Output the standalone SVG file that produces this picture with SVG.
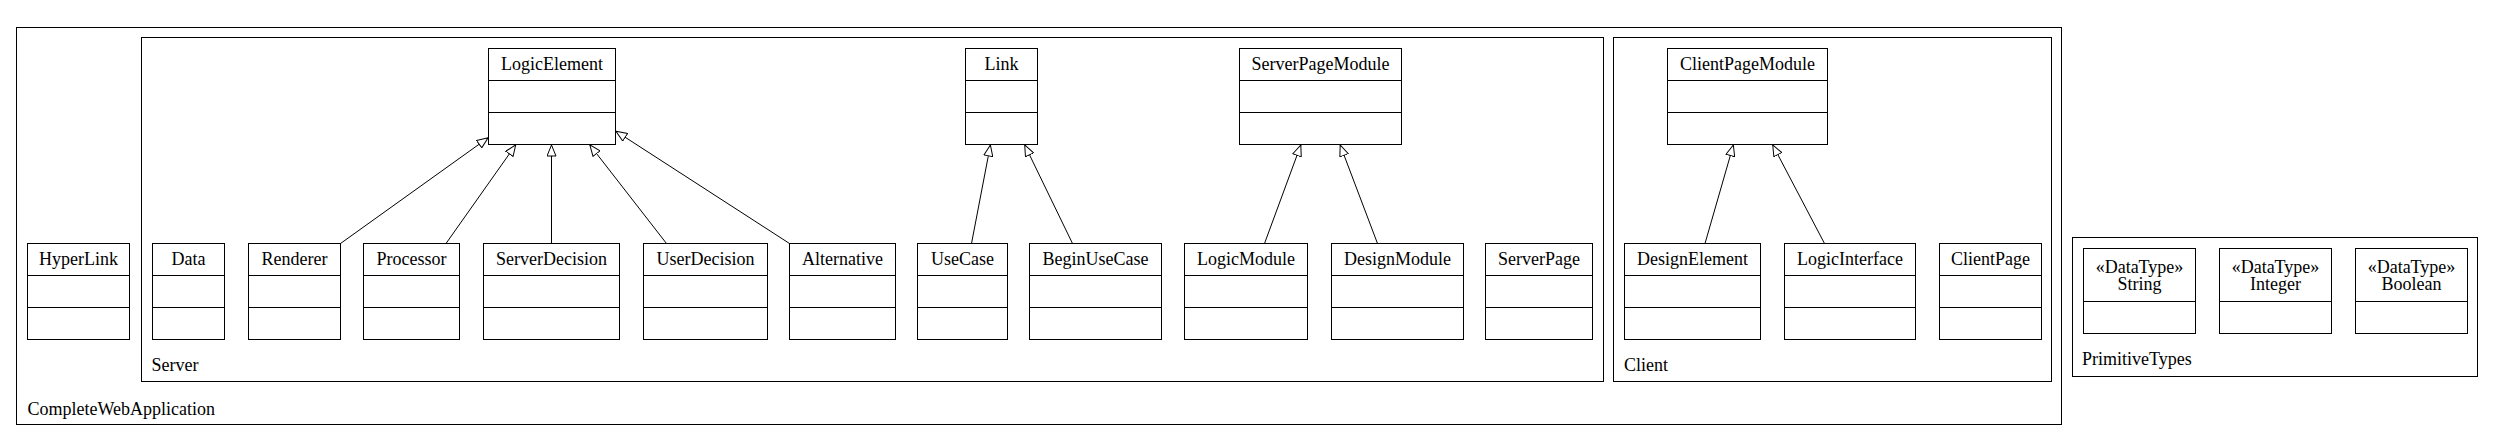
<svg xmlns="http://www.w3.org/2000/svg" width="2493" height="440" viewBox="0 0 2493 440">
<style>
  .pkg { fill: none; stroke: #000; stroke-width: 1; }
  .box { fill: #fff; stroke: #000; stroke-width: 1; }
  .div { stroke: #000; stroke-width: 1; }
  text { font-family: "Liberation Serif", "Times New Roman", serif; font-size: 18px; fill: #000; }
  .c { text-anchor: middle; }
  .gen { fill: none; stroke: #000; stroke-width: 1; marker-end: url(#tri); }
</style>
<defs>
  <marker id="tri" viewBox="0 0 12 10" refX="12" refY="5" markerWidth="12" markerHeight="10" markerUnits="userSpaceOnUse" orient="auto">
    <path d="M0.5,0.5 L11.5,5 L0.5,9.5 Z" fill="#fff" stroke="#000" stroke-width="1"/>
  </marker>
</defs>
<rect width="2493" height="440" fill="#fff"/>

<g id="pkg-CompleteWebApplication">
  <rect class="pkg" x="16.5" y="27.5" width="2045" height="397"/>
  <text x="27.5" y="415">CompleteWebApplication</text>
</g>
<g id="pkg-Server">
  <rect class="pkg" x="141.5" y="37.5" width="1462" height="344"/>
  <text x="151.5" y="371">Server</text>
</g>
<g id="pkg-Client">
  <rect class="pkg" x="1613.5" y="37.5" width="438" height="344"/>
  <text x="1624" y="371">Client</text>
</g>
<g id="pkg-PrimitiveTypes">
  <rect class="pkg" x="2072.5" y="237.5" width="405" height="139"/>
  <text x="2082" y="365">PrimitiveTypes</text>
</g>

<g id="connectors">
  <line class="gen" x1="340.5" y1="243.5" x2="488.5" y2="137.5"/>
  <line class="gen" x1="446" y1="243.5" x2="516" y2="144.5"/>
  <line class="gen" x1="551.5" y1="243.5" x2="551.5" y2="144.5"/>
  <line class="gen" x1="666.5" y1="243.5" x2="589.5" y2="144.5"/>
  <line class="gen" x1="789.5" y1="243.5" x2="615.5" y2="131"/>
  <line class="gen" x1="971.5" y1="243.5" x2="990.5" y2="144.5"/>
  <line class="gen" x1="1072.5" y1="243.5" x2="1024.5" y2="144.5"/>
  <line class="gen" x1="1264.5" y1="243.5" x2="1301" y2="144.5"/>
  <line class="gen" x1="1377.5" y1="243.5" x2="1340" y2="144.5"/>
  <line class="gen" x1="1705" y1="243.5" x2="1733.5" y2="144.5"/>
  <line class="gen" x1="1824.5" y1="243.5" x2="1772.5" y2="144.5"/>
</g>

<!-- top row classes -->
<g id="LogicElement">
  <rect class="box" x="488.5" y="48.5" width="127" height="96"/>
  <line class="div" x1="488.5" y1="80.5" x2="615.5" y2="80.5"/>
  <line class="div" x1="488.5" y1="112.5" x2="615.5" y2="112.5"/>
  <text class="c" x="552" y="70">LogicElement</text>
</g>
<g id="Link">
  <rect class="box" x="965.5" y="48.5" width="72" height="96"/>
  <line class="div" x1="965.5" y1="80.5" x2="1037.5" y2="80.5"/>
  <line class="div" x1="965.5" y1="112.5" x2="1037.5" y2="112.5"/>
  <text class="c" x="1001.5" y="70">Link</text>
</g>
<g id="ServerPageModule">
  <rect class="box" x="1239.5" y="48.5" width="162" height="96"/>
  <line class="div" x1="1239.5" y1="80.5" x2="1401.5" y2="80.5"/>
  <line class="div" x1="1239.5" y1="112.5" x2="1401.5" y2="112.5"/>
  <text class="c" x="1320.5" y="70">ServerPageModule</text>
</g>
<g id="ClientPageModule">
  <rect class="box" x="1667.5" y="48.5" width="160" height="96"/>
  <line class="div" x1="1667.5" y1="80.5" x2="1827.5" y2="80.5"/>
  <line class="div" x1="1667.5" y1="112.5" x2="1827.5" y2="112.5"/>
  <text class="c" x="1747.5" y="70">ClientPageModule</text>
</g>

<!-- bottom row classes -->
<g id="HyperLink">
  <rect class="box" x="27.5" y="243.5" width="102" height="96"/>
  <line class="div" x1="27.5" y1="275.5" x2="129.5" y2="275.5"/>
  <line class="div" x1="27.5" y1="307.5" x2="129.5" y2="307.5"/>
  <text class="c" x="78.5" y="265">HyperLink</text>
</g>
<g id="Data">
  <rect class="box" x="152.5" y="243.5" width="72" height="96"/>
  <line class="div" x1="152.5" y1="275.5" x2="224.5" y2="275.5"/>
  <line class="div" x1="152.5" y1="307.5" x2="224.5" y2="307.5"/>
  <text class="c" x="188.5" y="265">Data</text>
</g>
<g id="Renderer">
  <rect class="box" x="248.5" y="243.5" width="92" height="96"/>
  <line class="div" x1="248.5" y1="275.5" x2="340.5" y2="275.5"/>
  <line class="div" x1="248.5" y1="307.5" x2="340.5" y2="307.5"/>
  <text class="c" x="294.5" y="265">Renderer</text>
</g>
<g id="Processor">
  <rect class="box" x="363.5" y="243.5" width="96" height="96"/>
  <line class="div" x1="363.5" y1="275.5" x2="459.5" y2="275.5"/>
  <line class="div" x1="363.5" y1="307.5" x2="459.5" y2="307.5"/>
  <text class="c" x="411.5" y="265">Processor</text>
</g>
<g id="ServerDecision">
  <rect class="box" x="483.5" y="243.5" width="136" height="96"/>
  <line class="div" x1="483.5" y1="275.5" x2="619.5" y2="275.5"/>
  <line class="div" x1="483.5" y1="307.5" x2="619.5" y2="307.5"/>
  <text class="c" x="551.5" y="265">ServerDecision</text>
</g>
<g id="UserDecision">
  <rect class="box" x="643.5" y="243.5" width="124" height="96"/>
  <line class="div" x1="643.5" y1="275.5" x2="767.5" y2="275.5"/>
  <line class="div" x1="643.5" y1="307.5" x2="767.5" y2="307.5"/>
  <text class="c" x="705.5" y="265">UserDecision</text>
</g>
<g id="Alternative">
  <rect class="box" x="789.5" y="243.5" width="106" height="96"/>
  <line class="div" x1="789.5" y1="275.5" x2="895.5" y2="275.5"/>
  <line class="div" x1="789.5" y1="307.5" x2="895.5" y2="307.5"/>
  <text class="c" x="842.5" y="265">Alternative</text>
</g>
<g id="UseCase">
  <rect class="box" x="917.5" y="243.5" width="90" height="96"/>
  <line class="div" x1="917.5" y1="275.5" x2="1007.5" y2="275.5"/>
  <line class="div" x1="917.5" y1="307.5" x2="1007.5" y2="307.5"/>
  <text class="c" x="962.5" y="265">UseCase</text>
</g>
<g id="BeginUseCase">
  <rect class="box" x="1029.5" y="243.5" width="132" height="96"/>
  <line class="div" x1="1029.5" y1="275.5" x2="1161.5" y2="275.5"/>
  <line class="div" x1="1029.5" y1="307.5" x2="1161.5" y2="307.5"/>
  <text class="c" x="1095.5" y="265">BeginUseCase</text>
</g>
<g id="LogicModule">
  <rect class="box" x="1184.5" y="243.5" width="123" height="96"/>
  <line class="div" x1="1184.5" y1="275.5" x2="1307.5" y2="275.5"/>
  <line class="div" x1="1184.5" y1="307.5" x2="1307.5" y2="307.5"/>
  <text class="c" x="1246" y="265">LogicModule</text>
</g>
<g id="DesignModule">
  <rect class="box" x="1331.5" y="243.5" width="132" height="96"/>
  <line class="div" x1="1331.5" y1="275.5" x2="1463.5" y2="275.5"/>
  <line class="div" x1="1331.5" y1="307.5" x2="1463.5" y2="307.5"/>
  <text class="c" x="1397.5" y="265">DesignModule</text>
</g>
<g id="ServerPage">
  <rect class="box" x="1485.5" y="243.5" width="107" height="96"/>
  <line class="div" x1="1485.5" y1="275.5" x2="1592.5" y2="275.5"/>
  <line class="div" x1="1485.5" y1="307.5" x2="1592.5" y2="307.5"/>
  <text class="c" x="1539" y="265">ServerPage</text>
</g>
<g id="DesignElement">
  <rect class="box" x="1624.5" y="243.5" width="136" height="96"/>
  <line class="div" x1="1624.5" y1="275.5" x2="1760.5" y2="275.5"/>
  <line class="div" x1="1624.5" y1="307.5" x2="1760.5" y2="307.5"/>
  <text class="c" x="1692.5" y="265">DesignElement</text>
</g>
<g id="LogicInterface">
  <rect class="box" x="1784.5" y="243.5" width="131" height="96"/>
  <line class="div" x1="1784.5" y1="275.5" x2="1915.5" y2="275.5"/>
  <line class="div" x1="1784.5" y1="307.5" x2="1915.5" y2="307.5"/>
  <text class="c" x="1850" y="265">LogicInterface</text>
</g>
<g id="ClientPage">
  <rect class="box" x="1939.5" y="243.5" width="102" height="96"/>
  <line class="div" x1="1939.5" y1="275.5" x2="2041.5" y2="275.5"/>
  <line class="div" x1="1939.5" y1="307.5" x2="2041.5" y2="307.5"/>
  <text class="c" x="1990.5" y="265">ClientPage</text>
</g>

<!-- primitive data types -->
<g id="String">
  <rect class="box" x="2083.5" y="248.5" width="112" height="85"/>
  <line class="div" x1="2083.5" y1="301.5" x2="2195.5" y2="301.5"/>
  <text class="c" x="2139.5" y="272.5">«DataType»</text>
  <text class="c" x="2139.5" y="290">String</text>
</g>
<g id="Integer">
  <rect class="box" x="2219.5" y="248.5" width="112" height="85"/>
  <line class="div" x1="2219.5" y1="301.5" x2="2331.5" y2="301.5"/>
  <text class="c" x="2275.5" y="272.5">«DataType»</text>
  <text class="c" x="2275.5" y="290">Integer</text>
</g>
<g id="Boolean">
  <rect class="box" x="2355.5" y="248.5" width="112" height="85"/>
  <line class="div" x1="2355.5" y1="301.5" x2="2467.5" y2="301.5"/>
  <text class="c" x="2411.5" y="272.5">«DataType»</text>
  <text class="c" x="2411.5" y="290">Boolean</text>
</g>
</svg>
